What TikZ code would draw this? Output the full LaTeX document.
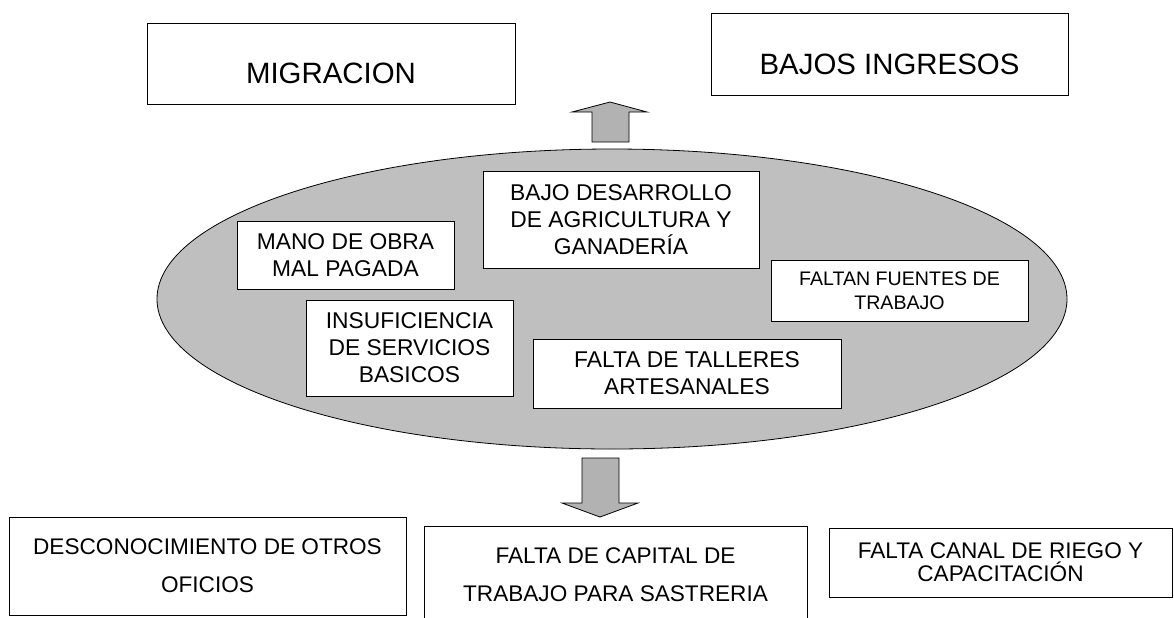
\documentclass[tikz,border=0pt]{standalone}
\usepackage{fontspec}
\setmainfont{Liberation Sans}
\usepackage{tikz}
\usetikzlibrary{shapes.geometric}
\tikzstyle{caja} = [draw, fill=white, thin, inner sep=0pt, align=center]
\tikzstyle{efecto} = [caja, font=\fontsize{14.7}{17}\selectfont, text height=20pt, text depth=0pt]
\tikzstyle{causa} = [caja, font=\fontsize{11.4}{13.5}\selectfont]
\tikzstyle{raiz} = [caja, font=\fontsize{11.3}{19}\selectfont]
\tikzstyle{flecha} = [draw, thin, fill=black!30, line join=miter]

\begin{document}
\begin{tikzpicture}[x=0.5pt,y=-0.5pt]

		\useasboundingbox (0,0) rectangle (1174,617);

		\node [efecto, minimum width=184pt, minimum height=40.5pt] (migracion) at (331,63.5) {MIGRACION};
		\node [efecto, minimum width=178.5pt, minimum height=41pt] (ingresos) at (889.5,54) {BAJOS INGRESOS};

		\node [draw, thin, ellipse, fill=black!25, minimum width=455pt, minimum height=150pt] (nucleo) at (612,299) {};

		\draw [flecha] (592,142) -- (592,112) -- (572,112) -- (610,102) -- (647,112) -- (629,112) -- (629,142) -- cycle;
		\draw [flecha] (582,458) -- (619,458) -- (619,503) -- (638,503) -- (600,517) -- (562,503) -- (582,503) -- cycle;

		\node [causa, minimum width=138pt, minimum height=48.5pt] (agricultura) at (621,219.5) {BAJO DESARROLLO\\DE AGRICULTURA Y\\GANADERÍA};
		\node [causa, minimum width=108.5pt, minimum height=34pt] (manoobra) at (345.5,255) {MANO DE OBRA\\MAL PAGADA};
		\node [causa, minimum width=103.5pt, minimum height=48pt] (servicios) at (409.5,348) {INSUFICIENCIA\\DE SERVICIOS\\BASICOS};
		\node [causa, font=\fontsize{9.8}{12}\selectfont, minimum width=128.5pt, minimum height=30.5pt] (fuentes) at (899.5,290.5) {FALTAN FUENTES DE\\TRABAJO};
		\node [causa, minimum width=154pt, minimum height=34.5pt] (talleres) at (687,373.5) {FALTA DE TALLERES\\ARTESANALES};

		\node [raiz, minimum width=198.5pt, minimum height=49pt] (oficios) at (207.5,566) {DESCONOCIMIENTO DE OTROS\\OFICIOS};
		\node [raiz, minimum width=191.5pt, minimum height=49pt] (capital) at (615.5,575) {FALTA DE CAPITAL DE\\TRABAJO PARA SASTRERIA};
		\node [raiz, font=\fontsize{11.3}{11.5}\selectfont, minimum width=171.5pt, minimum height=34.5pt] (riego) at (1000.5,562.5) {FALTA CANAL DE RIEGO Y\\CAPACITACIÓN};

\end{tikzpicture}
\end{document}
